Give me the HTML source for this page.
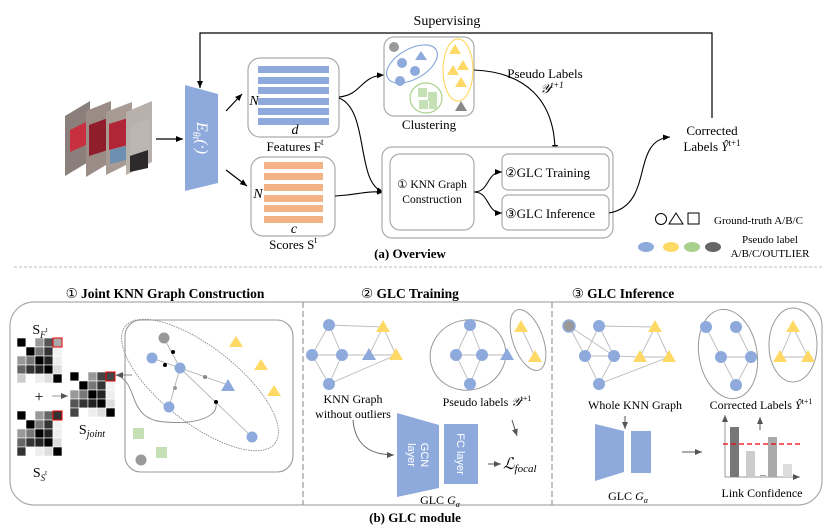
<!DOCTYPE html>
<html><head><meta charset="utf-8"><style>
html,body{margin:0;padding:0;background:#fff}
svg{display:block;font-family:"Liberation Serif",serif}
</style></head><body>
<svg width="830" height="532" viewBox="0 0 830 532" xmlns="http://www.w3.org/2000/svg">
<defs>
<marker id="a" markerWidth="8" markerHeight="8" refX="7" refY="4" orient="auto" markerUnits="userSpaceOnUse"><path d="M0,1 L7,4 L0,7 z" fill="#000"/></marker>
<marker id="g" markerWidth="8" markerHeight="8" refX="7" refY="4" orient="auto" markerUnits="userSpaceOnUse"><path d="M0,1 L7,4 L0,7 z" fill="#555"/></marker>
</defs>
<text x="447" y="25" font-size="14" text-anchor="middle">Supervising</text>
<polyline points="712,118 712,33 200,33 200,88" fill="none" stroke="#000" stroke-width="1.2" marker-end="url(#a)"/>
<g>
<polygon points="65,116 90,101 90,161 65,176" fill="#8a7f7a"/>
<polygon points="70,130 86,122 86,145 70,152" fill="#c8303f"/>
<polygon points="86,111 111,101 111,162 86,177" fill="#9c8c86"/>
<polygon points="89,125 108,118 108,150 89,156" fill="#8f1d2a"/>
<polygon points="106,112 132,102 132,162 106,175" fill="#a89b93"/>
<polygon points="109,124 128,118 128,145 109,150" fill="#b02538"/>
<polygon points="110,150 126,146 126,160 110,164" fill="#6d8fb0"/>
<polygon points="126,112 152,101 152,162 126,175" fill="#b8b0aa"/>
<polygon points="130,126 150,118 150,150 130,155" fill="#bcb6b2"/>
<polygon points="130,156 148,150 148,168 130,172" fill="#2c2a2a"/>
</g>
<line x1="156" y1="139" x2="183" y2="139" stroke="#000" stroke-width="1.2" marker-end="url(#a)"/>
<polygon points="185,85 218,94 218,183 185,191" fill="#8eaadc"/>
<text transform="translate(197,138) rotate(90)" font-size="16" fill="#fff" text-anchor="middle" font-style="italic">E<tspan font-size="10" dy="4">θt</tspan><tspan dy="-4">(·)</tspan></text>
<line x1="226" y1="111" x2="242" y2="94" stroke="#000" stroke-width="1.2" marker-end="url(#a)"/>
<line x1="226" y1="170" x2="247" y2="186" stroke="#000" stroke-width="1.2" marker-end="url(#a)"/>
<rect x="248" y="58" width="91" height="79" rx="12" fill="#fff" stroke="#aaa" stroke-width="1.2"/>
<g fill="#8eaadc">
<rect x="258" y="66" width="71" height="7"/><rect x="258" y="77" width="71" height="7"/><rect x="258" y="87" width="71" height="7"/><rect x="258" y="98" width="71" height="7"/><rect x="258" y="108" width="71" height="7"/><rect x="258" y="118" width="71" height="7"/>
</g>
<text x="254" y="105" font-size="14" font-style="italic" text-anchor="middle">N</text>
<text x="295" y="134" font-size="14" font-style="italic" text-anchor="middle">d</text>
<text x="295" y="151" font-size="13" text-anchor="middle">Features F<tspan font-size="9" dy="-6">t</tspan></text>
<rect x="251" y="157" width="84" height="79" rx="12" fill="#fff" stroke="#aaa" stroke-width="1.2"/>
<g fill="#f3b386">
<rect x="264" y="162" width="59" height="7"/><rect x="264" y="173" width="59" height="7"/><rect x="264" y="184" width="59" height="7"/><rect x="264" y="195" width="59" height="7"/><rect x="264" y="205" width="59" height="7"/><rect x="264" y="216" width="59" height="7"/>
</g>
<text x="258" y="198" font-size="14" font-style="italic" text-anchor="middle">N</text>
<text x="294" y="233" font-size="14" font-style="italic" text-anchor="middle">c</text>
<text x="293" y="249" font-size="13" text-anchor="middle">Scores S<tspan font-size="9" dy="-6">t</tspan></text>
<path d="M339,97 C362,95 360,76 384,75" fill="none" stroke="#000" stroke-width="1.1" marker-end="url(#a)"/>
<path d="M339,98 C370,110 355,185 384,192" fill="none" stroke="#000" stroke-width="1.1" marker-end="url(#a)"/>
<path d="M335,196 C360,195 360,191 384,192" fill="none" stroke="#000" stroke-width="1.1" marker-end="url(#a)"/>
<rect x="384" y="37" width="90" height="79" rx="10" fill="#fff" stroke="#aaa" stroke-width="1.2"/>
<circle cx="394" cy="47" r="5" fill="#999"/>
<ellipse cx="412" cy="64" rx="28" ry="15" transform="rotate(-30 412 64)" fill="none" stroke="#8eaadc" stroke-width="1.2"/>
<circle cx="402" cy="63" r="5" fill="#8eaadc"/><circle cx="415" cy="71" r="5" fill="#8eaadc"/><circle cx="400" cy="81" r="5" fill="#8eaadc"/>
<polygon points="421,51 427,60 415,60" fill="#8eaadc"/>
<ellipse cx="426" cy="98" rx="16" ry="15" fill="none" stroke="#a8d08d" stroke-width="1.2"/>
<rect x="418" y="88" width="9" height="9" fill="#c5e0b4"/><rect x="428" y="92" width="9" height="9" fill="#c5e0b4"/><rect x="419" y="100" width="9" height="9" fill="#c5e0b4"/><rect x="429" y="101" width="8" height="8" fill="#c5e0b4"/>
<ellipse cx="458" cy="70" rx="15" ry="31" fill="none" stroke="#ffd966" stroke-width="1.2"/>
<polygon points="455,44 461,54 449,54" fill="#ffd966"/><polygon points="463,60 469,70 457,70" fill="#ffd966"/><polygon points="453,65 459,75 447,75" fill="#ffd966"/><polygon points="461,77 467,87 455,87" fill="#ffd966"/>
<polygon points="461,101 467,111 455,111" fill="#888"/>
<text x="429" y="129" font-size="13" text-anchor="middle">Clustering</text>
<path d="M474,70 C525,72 555,100 555,152" fill="none" stroke="#000" stroke-width="1.1" marker-end="url(#a)"/>
<text x="545" y="78" font-size="13" text-anchor="middle">Pseudo Labels</text>
<text x="552" y="93" font-size="13" font-style="italic" text-anchor="middle">𝒴<tspan font-size="9" dy="-5">t+1</tspan></text>
<rect x="382" y="147" width="231" height="91" rx="10" fill="#fff" stroke="#aaa" stroke-width="1.2"/>
<rect x="390" y="154" width="84" height="76" rx="10" fill="#fff" stroke="#aaa" stroke-width="1.2"/>
<text x="432" y="188" font-size="11.5" text-anchor="middle">① KNN Graph</text>
<text x="432" y="203" font-size="11.5" text-anchor="middle">Construction</text>
<rect x="502" y="154" width="107" height="36" rx="6" fill="#fff" stroke="#aaa" stroke-width="1.2"/>
<text x="505" y="177" font-size="13">②GLC Training</text>
<rect x="502" y="195" width="107" height="35" rx="6" fill="#fff" stroke="#aaa" stroke-width="1.2"/>
<text x="505" y="218" font-size="13">③GLC Inference</text>
<path d="M474,192 C490,192 486,172 502,172" fill="none" stroke="#000" stroke-width="1.1" marker-end="url(#a)"/>
<path d="M474,192 C490,192 486,213 502,213" fill="none" stroke="#000" stroke-width="1.1" marker-end="url(#a)"/>
<path d="M609,213 C655,205 630,140 670,137" fill="none" stroke="#000" stroke-width="1.1" marker-end="url(#a)"/>
<text x="712" y="135" font-size="13" text-anchor="middle">Corrected</text>
<text x="712" y="151" font-size="13" text-anchor="middle">Labels <tspan font-style="italic">Ŷ</tspan><tspan font-size="9" dy="-5">t+1</tspan></text>
<circle cx="661" cy="219" r="5.5" fill="none" stroke="#000"/>
<polygon points="676,213 683,224 669,224" fill="none" stroke="#000"/>
<rect x="688" y="213" width="11" height="11" fill="none" stroke="#000"/>
<text x="714" y="224" font-size="11">Ground-truth A/B/C</text>
<ellipse cx="646" cy="247" rx="8" ry="5" fill="#8eaadc"/><ellipse cx="671" cy="247" rx="8" ry="5" fill="#ffd966"/><ellipse cx="692" cy="247" rx="8" ry="5" fill="#a8d08d"/><ellipse cx="713" cy="247" rx="8" ry="5" fill="#666"/>
<text x="770" y="243" font-size="11" text-anchor="middle">Pseudo label</text>
<text x="770" y="257" font-size="11" text-anchor="middle">A/B/C/OUTLIER</text>
<text x="410" y="258" font-size="13" font-weight="bold" text-anchor="middle">(a) Overview</text>
<line x1="14" y1="267" x2="822" y2="267" stroke="#bbb" stroke-dasharray="3,2"/>
<text x="165" y="298" font-size="13.5" font-weight="bold" text-anchor="middle"><tspan font-weight="normal">①</tspan>  Joint KNN Graph Construction</text>
<text x="410" y="298" font-size="13.5" font-weight="bold" text-anchor="middle"><tspan font-weight="normal">②</tspan>  GLC Training</text>
<text x="623" y="298" font-size="13.5" font-weight="bold" text-anchor="middle"><tspan font-weight="normal">③</tspan>  GLC Inference</text>
<rect x="10" y="302" width="812" height="203" rx="24" fill="none" stroke="#aaa" stroke-width="1.2"/>
<line x1="303" y1="302" x2="303" y2="505" stroke="#999" stroke-dasharray="6,3" stroke-width="1.2"/>
<line x1="552" y1="302" x2="552" y2="505" stroke="#999" stroke-dasharray="6,3" stroke-width="1.2"/>
<text x="415" y="522" font-size="13" font-weight="bold" text-anchor="middle">(b) GLC module</text>
<g stroke="#fff" stroke-width="0.6">
<g transform="translate(17,338)">
<rect x="0" y="0" width="9" height="9" fill="#000"/><rect x="9" y="0" width="9" height="9" fill="#fff"/><rect x="18" y="0" width="9" height="9" fill="#999"/><rect x="27" y="0" width="9" height="9" fill="#555"/><rect x="36" y="0" width="9" height="9" fill="#aaa"/>
<rect x="0" y="9" width="9" height="9" fill="#fff"/><rect x="9" y="9" width="9" height="9" fill="#000"/><rect x="18" y="9" width="9" height="9" fill="#777"/><rect x="27" y="9" width="9" height="9" fill="#333"/><rect x="36" y="9" width="9" height="9" fill="#f2f2f2"/>
<rect x="0" y="18" width="9" height="9" fill="#999"/><rect x="9" y="18" width="9" height="9" fill="#777"/><rect x="18" y="18" width="9" height="9" fill="#000"/><rect x="27" y="18" width="9" height="9" fill="#222"/><rect x="36" y="18" width="9" height="9" fill="#eee"/>
<rect x="0" y="27" width="9" height="9" fill="#666"/><rect x="9" y="27" width="9" height="9" fill="#333"/><rect x="18" y="27" width="9" height="9" fill="#222"/><rect x="27" y="27" width="9" height="9" fill="#000"/><rect x="36" y="27" width="9" height="9" fill="#ddd"/>
<rect x="0" y="36" width="9" height="9" fill="#ccc"/><rect x="9" y="36" width="9" height="9" fill="#fff"/><rect x="18" y="36" width="9" height="9" fill="#eee"/><rect x="27" y="36" width="9" height="9" fill="#ddd"/><rect x="36" y="36" width="9" height="9" fill="#000"/>
</g>
<g transform="translate(17,411)">
<rect x="0" y="0" width="9" height="9" fill="#000"/><rect x="9" y="0" width="9" height="9" fill="#fff"/><rect x="18" y="0" width="9" height="9" fill="#999"/><rect x="27" y="0" width="9" height="9" fill="#666"/><rect x="36" y="0" width="9" height="9" fill="#333"/>
<rect x="0" y="9" width="9" height="9" fill="#fff"/><rect x="9" y="9" width="9" height="9" fill="#000"/><rect x="18" y="9" width="9" height="9" fill="#777"/><rect x="27" y="9" width="9" height="9" fill="#333"/><rect x="36" y="9" width="9" height="9" fill="#f2f2f2"/>
<rect x="0" y="18" width="9" height="9" fill="#999"/><rect x="9" y="18" width="9" height="9" fill="#777"/><rect x="18" y="18" width="9" height="9" fill="#000"/><rect x="27" y="18" width="9" height="9" fill="#222"/><rect x="36" y="18" width="9" height="9" fill="#eee"/>
<rect x="0" y="27" width="9" height="9" fill="#666"/><rect x="9" y="27" width="9" height="9" fill="#333"/><rect x="18" y="27" width="9" height="9" fill="#222"/><rect x="27" y="27" width="9" height="9" fill="#000"/><rect x="36" y="27" width="9" height="9" fill="#ddd"/>
<rect x="0" y="36" width="9" height="9" fill="#333"/><rect x="9" y="36" width="9" height="9" fill="#fff"/><rect x="18" y="36" width="9" height="9" fill="#eee"/><rect x="27" y="36" width="9" height="9" fill="#ddd"/><rect x="36" y="36" width="9" height="9" fill="#000"/>
</g>
<g transform="translate(70,372)">
<rect x="0" y="0" width="9" height="9" fill="#000"/><rect x="9" y="0" width="9" height="9" fill="#fff"/><rect x="18" y="0" width="9" height="9" fill="#999"/><rect x="27" y="0" width="9" height="9" fill="#444"/><rect x="36" y="0" width="9" height="9" fill="#444"/>
<rect x="0" y="9" width="9" height="9" fill="#fff"/><rect x="9" y="9" width="9" height="9" fill="#000"/><rect x="18" y="9" width="9" height="9" fill="#777"/><rect x="27" y="9" width="9" height="9" fill="#333"/><rect x="36" y="9" width="9" height="9" fill="#f2f2f2"/>
<rect x="0" y="18" width="9" height="9" fill="#999"/><rect x="9" y="18" width="9" height="9" fill="#777"/><rect x="18" y="18" width="9" height="9" fill="#000"/><rect x="27" y="18" width="9" height="9" fill="#222"/><rect x="36" y="18" width="9" height="9" fill="#eee"/>
<rect x="0" y="27" width="9" height="9" fill="#555"/><rect x="9" y="27" width="9" height="9" fill="#333"/><rect x="18" y="27" width="9" height="9" fill="#222"/><rect x="27" y="27" width="9" height="9" fill="#000"/><rect x="36" y="27" width="9" height="9" fill="#ddd"/>
<rect x="0" y="36" width="9" height="9" fill="#444"/><rect x="9" y="36" width="9" height="9" fill="#fff"/><rect x="18" y="36" width="9" height="9" fill="#eee"/><rect x="27" y="36" width="9" height="9" fill="#ddd"/><rect x="36" y="36" width="9" height="9" fill="#000"/>
</g>
</g>
<rect x="53" y="338" width="9" height="9" fill="none" stroke="#e00" stroke-width="1"/>
<rect x="53" y="411" width="9" height="9" fill="none" stroke="#e00" stroke-width="1"/>
<rect x="106" y="372" width="9" height="9" fill="none" stroke="#e00" stroke-width="1"/>
<text x="40" y="334" font-size="14" text-anchor="middle">S<tspan font-size="9" dy="4" font-style="italic">F</tspan><tspan font-size="7" dy="-6">t</tspan></text>
<text x="40" y="477" font-size="14" text-anchor="middle">S<tspan font-size="9" dy="4" font-style="italic">S</tspan><tspan font-size="7" dy="-6">t</tspan></text>
<text x="92" y="434" font-size="14" text-anchor="middle">S<tspan font-size="10" dy="3" font-style="italic">joint</tspan></text>
<text x="39" y="402" font-size="16" text-anchor="middle">+</text>
<line x1="52" y1="396" x2="68" y2="396" stroke="#999" marker-end="url(#g)"/>
<rect x="125" y="320" width="168" height="152" rx="16" fill="none" stroke="#999" stroke-width="1.1"/>
<ellipse cx="200" cy="385" rx="95" ry="38" transform="rotate(38 200 385)" fill="none" stroke="#888" stroke-dasharray="1.5,1" stroke-width="0.9"/>
<g stroke="#aaa" stroke-width="0.8">
<line x1="164" y1="338" x2="180" y2="368"/><line x1="152" y1="358" x2="180" y2="368"/><line x1="180" y1="368" x2="228" y2="385"/><line x1="180" y1="368" x2="169" y2="407"/><line x1="180" y1="368" x2="252" y2="437"/>
</g>
<path d="M115,375 C140,380 125,420 165,422 C200,425 218,415 216,404" fill="none" stroke="#888" stroke-width="0.9"/>
<line x1="132" y1="375" x2="116" y2="375" stroke="#888" marker-end="url(#g)"/>
<circle cx="173" cy="352" r="2" fill="#000"/><circle cx="165" cy="365" r="2" fill="#000"/><circle cx="205" cy="377" r="2" fill="#888"/><circle cx="175" cy="388" r="2" fill="#999"/><circle cx="216" cy="402" r="2" fill="#000"/>
<circle cx="164" cy="338" r="5.5" fill="#999"/>
<circle cx="152" cy="358" r="5.5" fill="#8eaadc"/><circle cx="180" cy="368" r="5.5" fill="#8eaadc"/><circle cx="169" cy="407" r="5.5" fill="#8eaadc"/><circle cx="252" cy="437" r="5.5" fill="#8eaadc"/>
<polygon points="228,379 235,391 221,391" fill="#8eaadc"/>
<polygon points="236,336 243,347 229,347" fill="#ffd966"/><polygon points="261,359 268,370 254,370" fill="#ffd966"/><polygon points="274,385 281,396 267,396" fill="#ffd966"/>
<rect x="133" y="428" width="11" height="11" fill="#c5e0b4"/><rect x="156" y="447" width="11" height="11" fill="#c5e0b4"/>
<circle cx="141" cy="460" r="5.5" fill="#999"/>
<g stroke="#bbb" stroke-width="0.9">
<line x1="329" y1="325" x2="312" y2="355"/><line x1="329" y1="325" x2="342" y2="355"/><line x1="312" y1="355" x2="342" y2="355"/><line x1="312" y1="355" x2="329" y2="384"/><line x1="342" y1="355" x2="329" y2="384"/><line x1="329" y1="325" x2="383" y2="327"/><line x1="342" y1="355" x2="369" y2="355"/><line x1="383" y1="327" x2="369" y2="355"/><line x1="383" y1="327" x2="396" y2="355"/><line x1="369" y1="355" x2="396" y2="355"/><line x1="329" y1="384" x2="396" y2="355"/>
</g>
<circle cx="329" cy="325" r="6" fill="#8eaadc"/><circle cx="312" cy="355" r="6" fill="#8eaadc"/><circle cx="342" cy="355" r="6" fill="#8eaadc"/><circle cx="329" cy="384" r="6" fill="#8eaadc"/>
<polygon points="369,348 376,360 362,360" fill="#8eaadc"/><polygon points="383,320 390,332 376,332" fill="#ffd966"/><polygon points="396,348 403,360 389,360" fill="#ffd966"/>
<text x="353" y="403" font-size="12" text-anchor="middle">KNN Graph</text>
<text x="353" y="418" font-size="12" text-anchor="middle">without outliers</text>
<g stroke="#bbb" stroke-width="0.9">
<line x1="470" y1="325" x2="456" y2="355"/><line x1="470" y1="325" x2="482" y2="355"/><line x1="456" y1="355" x2="482" y2="355"/><line x1="456" y1="355" x2="470" y2="384"/><line x1="482" y1="355" x2="470" y2="384"/><line x1="482" y1="355" x2="507" y2="355"/><line x1="521" y1="327" x2="535" y2="357"/>
</g>
<ellipse cx="468" cy="355" rx="38" ry="35" transform="rotate(-15 468 355)" fill="none" stroke="#999"/>
<ellipse cx="528" cy="340" rx="15" ry="32" transform="rotate(-20 528 340)" fill="none" stroke="#999"/>
<circle cx="470" cy="325" r="6" fill="#8eaadc"/><circle cx="456" cy="355" r="6" fill="#8eaadc"/><circle cx="482" cy="355" r="6" fill="#8eaadc"/><circle cx="470" cy="384" r="6" fill="#8eaadc"/>
<polygon points="507,348 514,360 500,360" fill="#8eaadc"/><polygon points="521,320 528,332 514,332" fill="#ffd966"/><polygon points="535,350 542,362 528,362" fill="#ffd966"/>
<text x="487" y="406" font-size="12" text-anchor="middle">Pseudo labels <tspan font-style="italic">𝒴</tspan><tspan font-size="8" dy="-5">t+1</tspan></text>
<path d="M353,420 C355,445 370,455 394,455" fill="none" stroke="#666" stroke-width="1" marker-end="url(#g)"/>
<polygon points="397,413 439,425 439,488 397,497" fill="#8eaadc"/>
<rect x="444" y="424" width="34" height="60" fill="#8eaadc"/>
<text transform="translate(418,455) rotate(90)" font-family="Liberation Sans,sans-serif" font-size="11" fill="#fff" text-anchor="middle"><tspan x="0" dy="-3">GCN</tspan><tspan x="0" dy="13">layer</tspan></text>
<text transform="translate(461,454) rotate(90)" font-family="Liberation Sans,sans-serif" font-size="11" fill="#fff" text-anchor="middle" dy="4">FC layer</text>
<line x1="488" y1="464" x2="501" y2="464" stroke="#555" marker-end="url(#g)"/>
<line x1="512" y1="420" x2="517" y2="436" stroke="#555" marker-end="url(#g)"/>
<text x="503" y="469" font-size="16" font-style="italic">ℒ<tspan font-size="11" dy="3">focal</tspan></text>
<text x="440" y="504" font-size="12" text-anchor="middle">GLC <tspan font-style="italic">G<tspan font-size="8" dy="3">α</tspan></tspan></text>
<g stroke="#bbb" stroke-width="0.9">
<line x1="569" y1="326" x2="585" y2="356"/><line x1="569" y1="326" x2="614" y2="356"/><line x1="599" y1="326" x2="585" y2="356"/><line x1="599" y1="326" x2="614" y2="356"/><line x1="585" y1="356" x2="614" y2="356"/><line x1="585" y1="356" x2="599" y2="384"/><line x1="614" y1="356" x2="599" y2="384"/><line x1="599" y1="326" x2="655" y2="327"/><line x1="614" y1="356" x2="640" y2="357"/><line x1="655" y1="327" x2="640" y2="357"/><line x1="655" y1="327" x2="669" y2="357"/><line x1="640" y1="357" x2="669" y2="357"/><line x1="599" y1="384" x2="669" y2="357"/>
</g>
<circle cx="569" cy="326" r="6" fill="#999" stroke="#8eaadc" stroke-width="1.5"/>
<circle cx="599" cy="326" r="6" fill="#8eaadc"/><circle cx="585" cy="356" r="6" fill="#8eaadc"/><circle cx="614" cy="356" r="6" fill="#8eaadc"/><circle cx="599" cy="384" r="6" fill="#8eaadc"/>
<polygon points="655,320 662,332 648,332" fill="#ffd966"/><polygon points="640,350 647,362 633,362" fill="#ffd966"/><polygon points="669,350 676,362 662,362" fill="#ffd966"/>
<text x="635" y="409" font-size="12" text-anchor="middle">Whole KNN Graph</text>
<line x1="625" y1="416" x2="625" y2="429" stroke="#555" marker-end="url(#g)"/>
<polygon points="595,424 624,431 624,472 595,481" fill="#8eaadc"/>
<rect x="631" y="431" width="20" height="42" fill="#8eaadc"/>
<text x="628" y="500" font-size="12" text-anchor="middle">GLC <tspan font-style="italic">G<tspan font-size="8" dy="3">α</tspan></tspan></text>
<line x1="682" y1="452" x2="702" y2="452" stroke="#555" marker-end="url(#g)"/>
<line x1="725" y1="477" x2="725" y2="415" stroke="#999" marker-end="url(#g)"/>
<line x1="725" y1="477" x2="800" y2="477" stroke="#999" marker-end="url(#g)"/>
<rect x="730" y="427" width="9" height="50" fill="#777"/>
<rect x="746" y="451" width="9" height="26" fill="#ccc"/>
<text x="760" y="476" font-size="8">...</text>
<rect x="768" y="437" width="9" height="40" fill="#aaa"/>
<rect x="783" y="464" width="9" height="13" fill="#ddd"/>
<line x1="723" y1="444" x2="800" y2="444" stroke="#e00" stroke-width="1.3" stroke-dasharray="5,3"/>
<line x1="760" y1="430" x2="760" y2="417" stroke="#555" marker-end="url(#g)"/>
<text x="762" y="497" font-size="12" text-anchor="middle">Link Confidence</text>
<g stroke="#bbb" stroke-width="0.9">
<line x1="706" y1="327" x2="721" y2="357"/><line x1="736" y1="327" x2="751" y2="357"/><line x1="721" y1="357" x2="751" y2="357"/><line x1="721" y1="357" x2="736" y2="385"/><line x1="751" y1="357" x2="736" y2="385"/><line x1="793" y1="327" x2="780" y2="357"/><line x1="793" y1="327" x2="808" y2="357"/><line x1="780" y1="357" x2="808" y2="357"/>
</g>
<ellipse cx="728" cy="354" rx="29" ry="45" transform="rotate(-10 728 354)" fill="none" stroke="#999"/>
<ellipse cx="793" cy="345" rx="24" ry="37" fill="none" stroke="#999"/>
<circle cx="706" cy="327" r="6" fill="#8eaadc"/><circle cx="736" cy="327" r="6" fill="#8eaadc"/><circle cx="721" cy="357" r="6" fill="#8eaadc"/><circle cx="751" cy="357" r="6" fill="#8eaadc"/><circle cx="736" cy="385" r="6" fill="#8eaadc"/>
<polygon points="793,320 800,332 786,332" fill="#ffd966"/><polygon points="780,350 787,362 773,362" fill="#ffd966"/><polygon points="808,350 815,362 801,362" fill="#ffd966"/>
<text x="761" y="409" font-size="12" text-anchor="middle">Corrected Labels <tspan font-style="italic">Ŷ</tspan><tspan font-size="8" dy="-5">t+1</tspan></text>
</svg>
</body></html>
